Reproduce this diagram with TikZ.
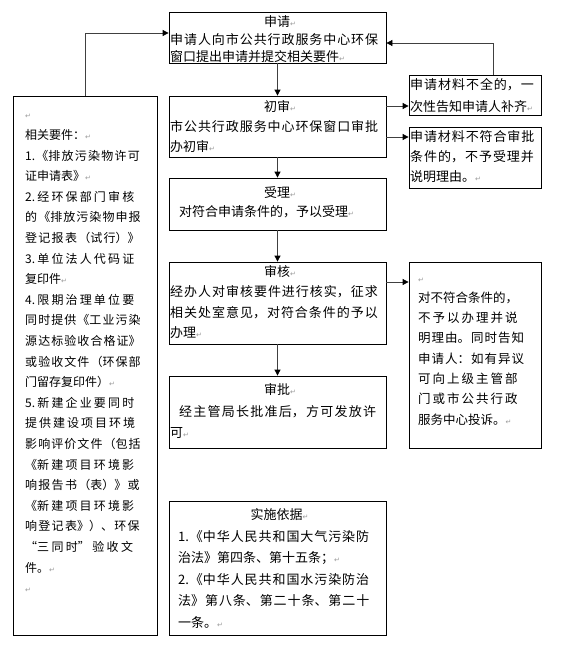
\documentclass[tikz,border=0pt]{standalone}
\usepackage{fontspec}
\newfontfamily\cjk{Noto Sans CJK SC}
\newfontfamily\djv{DejaVu Sans}
\usetikzlibrary{arrows.meta}
\XeTeXlinebreaklocale "zh"
\XeTeXlinebreakskip=0pt plus 4pt
\tolerance=10000
\hbadness=10000
\hfuzz=20pt
\newcommand\retmark{{\djv\fontsize{7}{7}\selectfont\textcolor{black!40}{↵}}}
\newcommand\ttl[1]{\hbox to \linewidth{\hskip 0pt plus 1fill\hbox{#1}\rlap{\retmark}\hskip 0pt plus 1fill}\par}
\tikzset{
  box/.style={draw=black, line width=0.8pt, inner sep=0pt, fill=white},
  txt/.style={inner sep=0pt, anchor=base west, text=black},
  arr/.style={draw=black!75, line width=0.8pt, -{Triangle[length=6pt,width=6pt,color=black]}},
}
\begin{document}
\begin{tikzpicture}[x=1pt,y=-1pt]
\fill[white] (0,0) rectangle (579,653);
\useasboundingbox (0,0) rectangle (579,653);

% boxes
\node[box, minimum width=217pt, minimum height=51pt]  (n_req)   at (277.5,37.5) {};
\node[box, minimum width=217pt, minimum height=61pt]  (n_init)  at (277.5,126.5) {};
\node[box, minimum width=217pt, minimum height=52pt]  (n_acc)   at (277.5,204) {};
\node[box, minimum width=217pt, minimum height=82pt]  (n_rev)   at (277.5,303) {};
\node[box, minimum width=217pt, minimum height=72pt]  (n_apr)   at (277.5,412) {};
\node[box, minimum width=217pt, minimum height=134pt] (n_basis) at (277.5,568) {};
\node[box, minimum width=144pt, minimum height=539pt] (n_docs)  at (85,365.5) {};
\node[box, minimum width=132pt, minimum height=40pt]  (n_inc)   at (475,95) {};
\node[box, minimum width=132pt, minimum height=61pt]  (n_rej)   at (475,157.5) {};
\node[box, minimum width=132pt, minimum height=186pt] (n_deny)  at (475,355) {};

% texts
\node[txt, text width=214pt, font=\cjk\fontsize{13}{17.5}\selectfont] (t_req) at (170,26.5)
 {\ttl{申请}申请人向市公共行政服务中心环保\linebreak 窗口提出申请并提交相关要件\retmark};
\node[txt, text width=214pt, font=\cjk\fontsize{13}{20}\selectfont] (t_init) at (170,111.5)
 {\ttl{初审}市公共行政服务中心环保窗口审批\linebreak 办初审\retmark};
\node[txt, text width=214pt, font=\cjk\fontsize{13}{19}\selectfont] (t_acc) at (170,197.5)
 {\ttl{受理}\hspace*{9pt}对符合申请条件的，予以受理\retmark};
\node[txt, text width=214pt, font=\cjk\fontsize{13}{20.3}\selectfont] (t_rev) at (170,276.5)
 {\ttl{审核}经办人对审核要件进行核实，征求\linebreak 相关处室意见，对符合条件的予以\linebreak 办理\retmark};
\node[txt, text width=214pt, font=\cjk\fontsize{13}{21.5}\selectfont] (t_apr) at (170,394.5)
 {\ttl{审批}\hspace*{9pt}经主管局长批准后，方可发放许\linebreak 可\retmark};
\node[txt, text width=197pt, font=\cjk\fontsize{13}{21.6}\selectfont] (t_basis) at (178,519.5)
 {\ttl{实施依据}1.《中华人民共和国大气污染防\linebreak 治法》第四条、第十五条；\retmark\par
  2.《中华人民共和国水污染防治\linebreak 法》第八条、第二十条、第二十\linebreak 一条。\retmark};
\node[txt, text width=122pt, font=\cjk\fontsize{12}{20.6}\selectfont] (t_docs) at (25,118.9)
 {\retmark\par
  相关要件：\retmark\par
  1.《排放污染物许可\linebreak 证申请表》\retmark\par
  2.经环保部门审核\linebreak 的《排放污染物申报\linebreak 登记报表（试行）》\linebreak 3.单位法人代码证\linebreak 复印件\retmark\par
  4.限期治理单位要\linebreak 同时提供《工业污染\linebreak 源达标验收合格证》\linebreak 或验收文件（环保部\linebreak 门留存复印件）\retmark\par
  5.新建企业要同时\linebreak 提供建设项目环境\linebreak 影响评价文件（包括\linebreak 《新建项目环境影\linebreak 响报告书（表）》或\linebreak 《新建项目环境影\linebreak 响登记表》）、环保\linebreak “三同时”验收文\linebreak 件。\retmark\par
  \retmark};
\node[txt, text width=130pt, font=\cjk\fontsize{13}{22}\selectfont] (t_inc) at (410,89.5)
 {申请材料不全的，一\linebreak 次性告知申请人补齐\retmark};
\node[txt, text width=130pt, font=\cjk\fontsize{13}{20}\selectfont] (t_rej) at (410,141.5)
 {申请材料不符合审批\linebreak 条件的，不予受理并\linebreak 说明理由。\retmark};
\node[txt, text width=112pt, font=\cjk\fontsize{12.5}{20.3}\selectfont] (t_deny) at (418,282)
 {\retmark\par
  对不符合条件的，\newline 不予以办理并说\linebreak 明理由。同时告知\linebreak 申请人：如有异议\linebreak 可向上级主管部\linebreak 门或市公共行政\linebreak 服务中心投诉。\retmark};

% connectors
\draw[arr] (n_docs.north) |- ([yshift=4.5pt]n_req.west);
\draw[arr] ([xshift=18pt]n_inc.north) |- ([yshift=-5.5pt]n_req.east);
\draw[arr] ([yshift=20.5pt]n_init.east) -- ([yshift=20.5pt]n_init.east -| n_inc.west);
\draw[arr] ([yshift=-10.5pt]n_init.east) -- ([yshift=-10.5pt]n_init.east -| n_rej.west);
\draw[arr] (n_req.south) -- (n_init.north);
\draw[arr] (n_init.south) -- (n_acc.north);
\draw[arr] (n_acc.south) -- (n_rev.north);
\draw[arr] (n_rev.south) -- (n_apr.north);
\draw[arr] ([yshift=21pt]n_rev.east) -- ([yshift=21pt]n_rev.east -| n_deny.west);
\end{tikzpicture}
\end{document}
